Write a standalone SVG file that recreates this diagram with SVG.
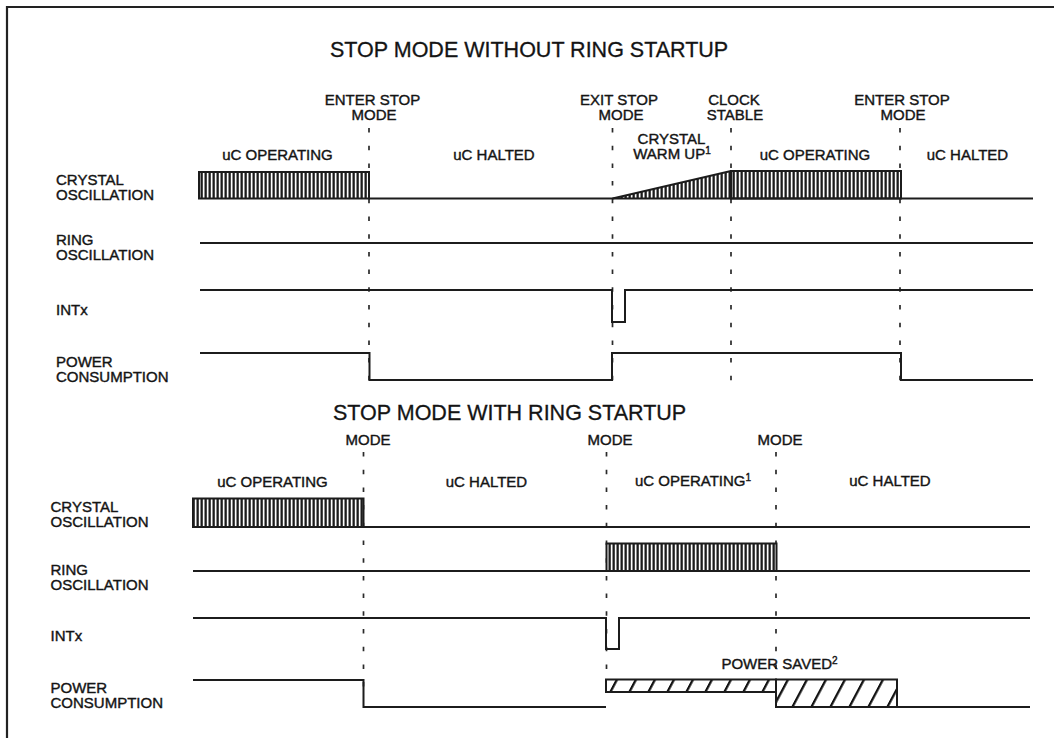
<svg xmlns="http://www.w3.org/2000/svg" width="1054" height="738" viewBox="0 0 1054 738">
<style>
.t{font-family:"Liberation Sans",Arial,Helvetica,sans-serif;font-size:15px;fill:#141414;stroke:#141414;stroke-width:0.4}
.c{text-anchor:middle}
.ttl{font-family:"Liberation Sans",Arial,Helvetica,sans-serif;font-size:21.5px;fill:#141414;stroke:#141414;stroke-width:0.3}
.sup{font-size:10px}
.w{fill:none;stroke:#1c1c1c;stroke-width:2;stroke-linejoin:miter}
.d{fill:none;stroke:#2a2a2a;stroke-width:1.7;stroke-dasharray:4.5 13.2}
.blk{fill:url(#vs);stroke:#1c1c1c;stroke-width:2}
.hat{fill:url(#hatch);stroke:#1c1c1c;stroke-width:2}
</style>
<defs>
<pattern id="vs" width="4" height="20" patternUnits="userSpaceOnUse">
<rect width="4" height="20" fill="#ffffff"/>
<rect x="0.5" width="2.3" height="20" fill="#1c1c1c"/>
</pattern>
<pattern id="hatch" width="19" height="40" patternUnits="userSpaceOnUse" patternTransform="skewX(-28)">
<rect width="19" height="40" fill="#ffffff"/>
<rect x="8" width="2.6" height="40" fill="#111111"/>
</pattern>
</defs>
<rect width="1054" height="738" fill="#ffffff"/>
<path d="M7 740 V7 H1056" fill="none" stroke="#222" stroke-width="2.2"/>

<g id="section1">
<text class="ttl" x="330" y="57">STOP MODE WITHOUT RING STARTUP</text>
<g id="s1-events">
<text class="t c" x="372.5" y="105">ENTER STOP</text>
<text class="t c" x="374" y="120">MODE</text>
<text class="t c" x="619" y="105">EXIT STOP</text>
<text class="t c" x="621" y="120">MODE</text>
<text class="t c" x="734" y="105">CLOCK</text>
<text class="t c" x="735" y="120">STABLE</text>
<text class="t c" x="902" y="105">ENTER STOP</text>
<text class="t c" x="903" y="120">MODE</text>
</g>
<g id="s1-phases">
<text class="t c" x="277.5" y="160">uC OPERATING</text>
<text class="t c" x="494" y="160">uC HALTED</text>
<text class="t c" x="671.5" y="144">CRYSTAL</text>
<text class="t c" x="672" y="159">WARM UP<tspan class="sup" dy="-5">1</tspan></text>
<text class="t c" x="815" y="160">uC OPERATING</text>
<text class="t c" x="967.5" y="160">uC HALTED</text>
</g>
<g id="s1-signal-names">
<text class="t" x="56" y="185">CRYSTAL</text>
<text class="t" x="56" y="200">OSCILLATION</text>
<text class="t" x="56" y="245">RING</text>
<text class="t" x="56" y="260">OSCILLATION</text>
<text class="t" x="56" y="315">INTx</text>
<text class="t" x="56" y="367">POWER</text>
<text class="t" x="56" y="382">CONSUMPTION</text>
</g>
<g id="s1-markers">
<line class="d" x1="369" y1="128" x2="369" y2="386"/>
<line class="d" x1="612.5" y1="128" x2="612.5" y2="386"/>
<line class="d" x1="731" y1="128" x2="731" y2="386"/>
<line class="d" x1="900" y1="128" x2="900" y2="386"/>
</g>
<g id="s1-crystal">
<rect class="blk" x="199" y="172" width="170" height="26.5"/>
<polygon points="612.5,198.5 731,171 731,198.5" fill="url(#vs)"/>
<rect class="blk" x="731" y="171" width="170" height="27.5"/>
<polyline class="w" points="612.5,198.5 731,171"/>
<polyline class="w" points="369,198.5 1033,198.5"/>
</g>
<g id="s1-ring"><polyline class="w" points="200,243 1033,243"/></g>
<g id="s1-intx"><polyline class="w" points="200,290 612,290 612,322 625,322 625,290 1033,290"/></g>
<g id="s1-power"><polyline class="w" points="200,353 369.5,353 369.5,380 612,380 612,353 901,353 901,380 1033,380"/></g>
</g>

<g id="section2">
<text class="ttl" x="333" y="420">STOP MODE WITH RING STARTUP</text>
<g id="s2-events">
<text class="t c" x="368" y="445">MODE</text>
<text class="t c" x="610" y="445">MODE</text>
<text class="t c" x="780" y="445">MODE</text>
</g>
<g id="s2-phases">
<text class="t c" x="272.5" y="487">uC OPERATING</text>
<text class="t c" x="486.5" y="487">uC HALTED</text>
<text class="t c" x="693" y="486">uC OPERATING<tspan class="sup" dy="-5">1</tspan></text>
<text class="t c" x="890" y="486">uC HALTED</text>
</g>
<g id="s2-signal-names">
<text class="t" x="50.5" y="512">CRYSTAL</text>
<text class="t" x="50.5" y="527">OSCILLATION</text>
<text class="t" x="50.5" y="575">RING</text>
<text class="t" x="50.5" y="590">OSCILLATION</text>
<text class="t" x="50.5" y="641">INTx</text>
<text class="t" x="50.5" y="693">POWER</text>
<text class="t" x="50.5" y="708">CONSUMPTION</text>
</g>
<g id="s2-markers">
<line class="d" x1="363.5" y1="452" x2="363.5" y2="690"/>
<line class="d" x1="606.5" y1="452" x2="606.5" y2="690"/>
<line class="d" x1="776" y1="452" x2="776" y2="676"/>
</g>
<g id="s2-crystal">
<rect class="blk" x="193" y="498.5" width="170.5" height="28.5"/>
<polyline class="w" points="363.5,527 1030,527"/>
</g>
<g id="s2-ring">
<polyline class="w" points="193,571 1030,571"/>
<rect class="blk" x="606.5" y="543.5" width="170" height="27.5"/>
</g>
<g id="s2-intx"><polyline class="w" points="193,618 606,618 606,649 619,649 619,618 1030,618"/></g>
<g id="s2-power">
<polyline class="w" points="193,680 363.5,680 363.5,707 606,707"/>
<rect class="hat" x="606" y="679.5" width="170" height="12.5"/>
<rect class="hat" x="776" y="679.5" width="121" height="27.5"/>
<polyline class="w" points="897,707 1030,707"/>
<text class="t c" x="779.5" y="669">POWER SAVED<tspan class="sup" dy="-5">2</tspan></text>
</g>
</g>
</svg>
